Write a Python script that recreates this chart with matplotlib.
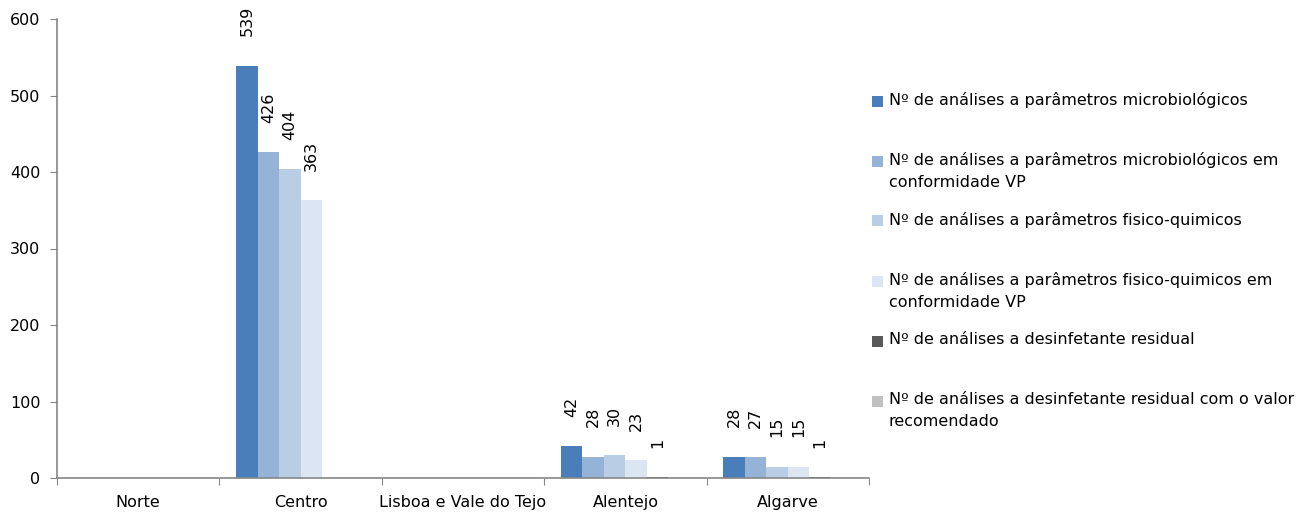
import numpy as np
import matplotlib
matplotlib.use("Agg")
import matplotlib.pyplot as plt
from matplotlib.patches import Rectangle

categories = ["Norte", "Centro", "Lisboa e Vale do Tejo", "Alentejo", "Algarve"]
series_names = [
    "Nº de análises a parâmetros microbiológicos",
    "Nº de análises a parâmetros microbiológicos em\nconformidade VP",
    "Nº de análises a parâmetros fisico-quimicos",
    "Nº de análises a parâmetros fisico-quimicos em\nconformidade VP",
    "Nº de análises a desinfetante residual",
    "Nº de análises a desinfetante residual com o valor\nrecomendado",
]
nan = np.nan
micro = [nan, 539, nan, 42, 28]
micro_vp = [nan, 426, nan, 28, 27]
fq = [nan, 404, nan, 30, 15]
fq_vp = [nan, 363, nan, 23, 15]
desinf = [nan, nan, nan, 1, 1]
desinf_rec = [nan, nan, nan, nan, nan]
series_values = [micro, micro_vp, fq, fq_vp, desinf, desinf_rec]
colors = ["#4A7EBB", "#95B3D7", "#B9CDE5", "#DCE6F2", "#595959", "#C0C0C0"]
yticks = [0, 100, 200, 300, 400, 500, 600]

plt.rcParams["font.family"] = ["DejaVu Sans"]
FS = 11.5
W, H, DPI = 1305, 515, 100
fig = plt.figure(figsize=(W / DPI, H / DPI), dpi=DPI)
ax = fig.add_axes([57 / W, 1 - 478 / H, (869 - 57) / W, (478 - 19) / H])

x = np.arange(len(categories))
bw = 21.5 / 162.5
n = len(series_values)
for i, (vals, col) in enumerate(zip(series_values, colors)):
    pos = x + (i - (n - 1) / 2) * bw
    v = np.array(vals, dtype=float)
    ax.bar(pos, np.nan_to_num(v), width=bw, color=col, linewidth=0)
    for p, val in zip(pos, v):
        if np.isfinite(val):
            ax.annotate(f"{int(val)}", xy=(p, val), xytext=(0, 21),
                        textcoords="offset points", rotation=90,
                        ha="center", va="bottom", fontsize=FS, color="black")

ax.set_xlim(-0.5, len(categories) - 0.5)
ax.set_ylim(0, 600)
ax.set_yticks(yticks)
ax.set_yticklabels([str(t) for t in yticks], fontsize=FS)
ax.set_xticks(np.arange(len(categories) + 1) - 0.5)
ax.set_xticklabels([])
ax.set_xticks(x, minor=True)
ax.set_xticklabels(categories, minor=True, fontsize=FS)
ax.tick_params(axis="x", which="major", length=5, color="#868686", direction="out")
ax.tick_params(axis="x", which="minor", length=0, pad=12)
ax.tick_params(axis="y", length=5, color="#868686", pad=7)
for s in ["top", "right"]:
    ax.spines[s].set_visible(False)
for s in ["left", "bottom"]:
    ax.spines[s].set_color("#868686")
    ax.spines[s].set_linewidth(1.2)

# legend (manual, Excel style)
y0 = 101
for i, (name, col) in enumerate(zip(series_names, colors)):
    yc = y0 + i * 60
    fig.patches.append(Rectangle((872 / W, 1 - (yc + 5.5) / H), 11 / W, 11 / H,
                                 transform=fig.transFigure, facecolor=col,
                                 edgecolor="none"))
    fig.text(889 / W, 1 - (yc - 9.5) / H, name, fontsize=FS, va="top", ha="left",
             linespacing=1.65)

fig.savefig("out.png", dpi=DPI)
